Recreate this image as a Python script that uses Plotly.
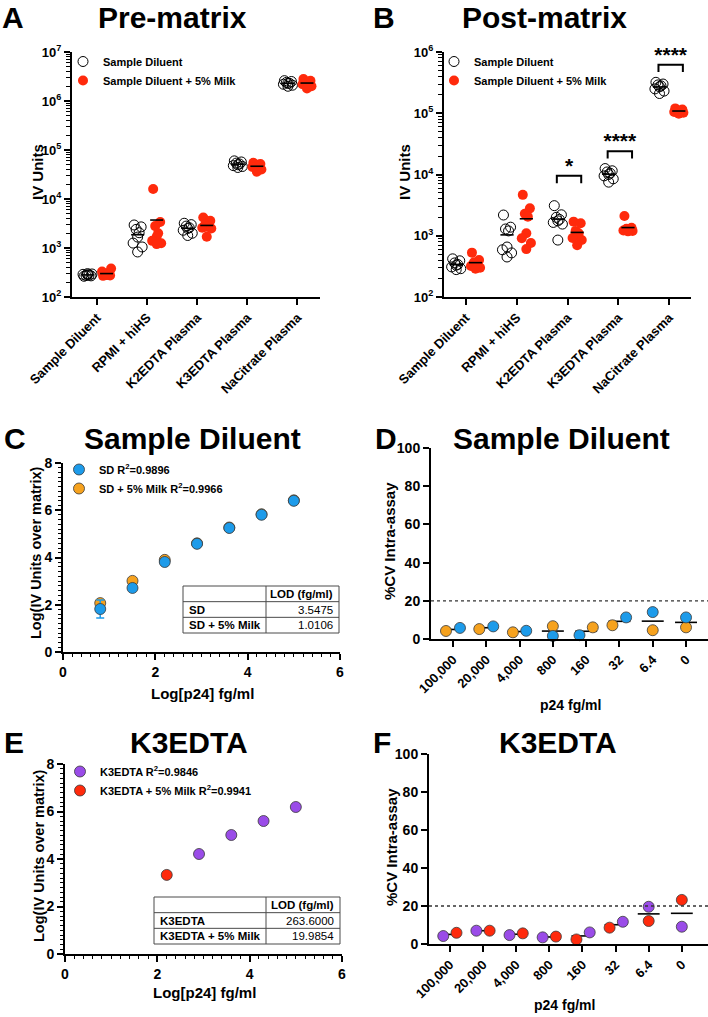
import numpy as np
import plotly.graph_objects as go

W, H = 708, 1017

# ---------------- data ----------------
matrix_categories = ["Sample Diluent", "RPMI + hiHS", "K2EDTA Plasma", "K3EDTA Plasma", "NaCitrate Plasma"]
series_names = ["Sample Diluent", "Sample Diluent + 5% Milk"]

pre_diluent = [
    [265, 270, 275, 280, 285, 290, 295, 300],
    [2950, 2700, 2400, 2050, 1670, 1260, 1050, 830],
    [3200, 3000, 2800, 2600, 2500, 2300, 2000, 1800],
    [60000, 57000, 54000, 52000, 50000, 48000, 46000, 44000],
    [2.6e6, 2.5e6, 2.4e6, 2.3e6, 2.3e6, 2.2e6, 2.1e6, 2.0e6],
]
pre_milk = [
    [270, 275, 280, 290, 300, 330, 380, 280],
    [16000, 3400, 2800, 2000, 1700, 1400, 1250, 1200],
    [4200, 3600, 3000, 2800, 2700, 2600, 2500, 1700],
    [55000, 52000, 50000, 48000, 47000, 45000, 40000, 36000],
    [2.8e6, 2.6e6, 2.5e6, 2.4e6, 2.3e6, 2.2e6, 2.0e6, 1.8e6],
]
post_diluent = [
    [420, 390, 360, 340, 330, 310, 290, 280],
    [2180, 1380, 1290, 1200, 655, 590, 525, 450],
    [3100, 2200, 2000, 1850, 1750, 1650, 1550, 850],
    [12500, 11500, 11000, 10500, 10000, 9500, 8500, 7500],
    [320000, 300000, 290000, 280000, 270000, 250000, 230000, 210000],
]
post_milk = [
    [530, 400, 370, 360, 340, 320, 300, 290],
    [4650, 2800, 2280, 2040, 1100, 910, 760, 605],
    [1700, 1600, 1200, 1100, 1000, 920, 850, 700],
    [2100, 1350, 1300, 1280, 1250, 1220, 1200, 1180],
    [120000, 115000, 112000, 110000, 108000, 105000, 102000, 98000],
]
post_sig_index = [2, 3, 4]
post_sig_text = ["*", "****", "****"]
post_sig_level = [9500, 24000, 620000]

pre_tick_values = [1e2, 1e3, 1e4, 1e5, 1e6, 1e7]
pre_tick_text = ["10<sup>2</sup>", "10<sup>3</sup>", "10<sup>4</sup>", "10<sup>5</sup>", "10<sup>6</sup>", "10<sup>7</sup>"]
post_tick_values = [1e2, 1e3, 1e4, 1e5, 1e6]
post_tick_text = ["10<sup>2</sup>", "10<sup>3</sup>", "10<sup>4</sup>", "10<sup>5</sup>", "10<sup>6</sup>"]

p24_levels = [6.4, 32, 160, 800, 4000, 20000, 100000]
sd_log_iv = [1.82, 2.71, 3.81, 4.58, 5.25, 5.81, 6.40]
sd_log_iv_err = [0.38, 0.04, 0.04, 0.03, 0.03, 0.03, 0.03]
sd_milk_log_iv = [2.07, 3.01, 3.90, 4.60, 5.27, 5.83, 6.42]
sd_milk_log_iv_err = [0.12, 0.04, 0.04, 0.03, 0.03, 0.03, 0.03]
sd_names = ["SD R<sup>2</sup>=0.9896", "SD + 5% Milk R<sup>2</sup>=0.9966"]
sd_lod_rows = ["SD", "SD + 5% Milk"]
sd_lod_values = ["3.5475", "1.0106"]

k3_p24 = [800, 4000, 20000, 100000]
k3_log_iv = [4.21, 5.01, 5.60, 6.19]
k3_milk_p24 = [160]
k3_milk_log_iv = [3.33]
k3_names = ["K3EDTA R<sup>2</sup>=0.9846", "K3EDTA + 5% Milk R<sup>2</sup>=0.9941"]
k3_lod_rows = ["K3EDTA", "K3EDTA + 5% Milk"]
k3_lod_values = ["263.6000", "19.9854"]

cv_categories = ["100,000", "20,000", "4,000", "800", "160", "32", "6.4", "0"]
cv_sd = [5.8, 6.6, 4.3, 1.6, 2.0, 11.3, 14.1, 11.3]
cv_sd_milk = [4.2, 5.2, 3.5, 6.7, 6.1, 7.2, 4.6, 6.1]
cv_k3 = [4.2, 7.0, 4.7, 3.5, 6.1, 11.7, 19.6, 9.1]
cv_k3_milk = [5.9, 7.0, 5.6, 3.9, 2.4, 8.6, 12.1, 23.2]
cv_threshold = 20

# ---------------- styling / layout constants ----------------
FONT = "Liberation Sans"
RED = "#ff2a0c"
BLUE = "#1d9bea"
ORANGE = "#f6a21e"
PURPLE = "#9a4ce8"
group_offset = [-0.19, 0.19]
spread = [-0.07, 0.07, -0.03, 0.03, 0.0, -0.09, 0.09, 0.0]
d_dodge_sd = [0.21, 0.21, 0.2, 0, -0.2, 0.2, 0, 0]
d_dodge_milk = [-0.21, -0.21, -0.2, 0, 0.2, -0.21, 0, 0]
f_dodge_k3 = [-0.2, -0.2, -0.2, -0.2, 0.22, 0.22, 0, 0]
f_dodge_milk = [0.2, 0.2, 0.2, 0.2, -0.18, -0.18, 0, 0]


def px(x):
    return x / W


def py(y):
    return 1 - y / H


fig = go.Figure()

axis_common = dict(showline=True, linecolor="black", linewidth=2, ticks="outside", automargin=False,
                   tickwidth=2, ticklen=6, tickcolor="black", showgrid=False, zeroline=False,
                   tickfont=dict(family=FONT, size=13, color="black", weight="bold"))

log_minor_pre = [m * 10 ** e for e in range(2, 7) for m in range(2, 10)]
log_minor_post = [m * 10 ** e for e in range(2, 6) for m in range(2, 10)]


def scatter_panel(xa, ya, diluent, milk, legend_name, show_leg):
    for s, (vals, name) in enumerate(zip([diluent, milk], series_names)):
        xs, ys = [], []
        lx, ly = [], []
        for i, group in enumerate(vals):
            for j, v in enumerate(group):
                xs.append(i + group_offset[s] + spread[j % len(spread)])
                ys.append(v)
            m = float(np.mean(group))
            lx += [i + group_offset[s] - 0.13, i + group_offset[s] + 0.13, None]
            ly += [m, m, None]
        if s == 0:
            marker = dict(symbol="circle-open", size=10, color="black", line=dict(width=1, color="black"))
        else:
            marker = dict(symbol="circle", size=10, color=RED, line=dict(width=0))
        fig.add_trace(go.Scatter(x=xs, y=ys, mode="markers", marker=marker, name=name,
                                 xaxis=xa, yaxis=ya, legend=legend_name, showlegend=show_leg,
                                 cliponaxis=False))
        fig.add_trace(go.Scatter(x=lx, y=ly, mode="lines", line=dict(color="black", width=1.6),
                                 xaxis=xa, yaxis=ya, showlegend=False, hoverinfo="skip"))


# ---- Panel A ----
scatter_panel("x", "y", pre_diluent, pre_milk, "legend", True)
# ---- Panel B ----
scatter_panel("x2", "y2", post_diluent, post_milk, "legend2", True)

# significance brackets (B)
for idx, txt, lvl in zip(post_sig_index, post_sig_text, post_sig_level):
    leg = lvl * 10 ** (-0.12)
    fig.add_trace(go.Scatter(x=[idx - 0.21, idx - 0.21, idx + 0.27, idx + 0.27], y=[leg, lvl, lvl, leg],
                             mode="lines", line=dict(color="black", width=2), xaxis="x2", yaxis="y2",
                             showlegend=False, hoverinfo="skip"))
    fig.add_trace(go.Scatter(x=[idx + 0.03], y=[lvl * 10 ** (-0.04)], mode="text", text=[txt],
                             textposition="top center",
                             textfont=dict(family=FONT, size=21, color="black", weight="bold"),
                             xaxis="x2", yaxis="y2", showlegend=False, hoverinfo="skip", cliponaxis=False))

# ---- Panel C ----
log_p24 = np.log10(p24_levels)
fig.add_trace(go.Scatter(x=log_p24, y=sd_milk_log_iv, mode="markers", name=sd_names[1], legendrank=2,
                         marker=dict(size=11, color=ORANGE, line=dict(width=0.8, color="#3a3a3a")),
                         error_y=dict(type="data", array=sd_milk_log_iv_err, color=ORANGE, thickness=1.5, width=4),
                         xaxis="x3", yaxis="y3", legend="legend3"))
fig.add_trace(go.Scatter(x=log_p24, y=sd_log_iv, mode="markers", name=sd_names[0], legendrank=1,
                         marker=dict(size=11, color=BLUE, line=dict(width=0.8, color="#3a3a3a")),
                         error_y=dict(type="data", array=sd_log_iv_err, color=BLUE, thickness=1.5, width=4),
                         xaxis="x3", yaxis="y3", legend="legend3"))

# ---- Panel E ----
fig.add_trace(go.Scatter(x=np.log10(k3_p24), y=k3_log_iv, mode="markers", name=k3_names[0], legendrank=1,
                         marker=dict(size=11, color=PURPLE, line=dict(width=0.8, color="#3a3a3a")),
                         xaxis="x5", yaxis="y5", legend="legend4"))
fig.add_trace(go.Scatter(x=np.log10(k3_milk_p24), y=k3_milk_log_iv, mode="markers", name=k3_names[1],
                         legendrank=2,
                         marker=dict(size=11, color=RED, line=dict(width=0.8, color="#3a3a3a")),
                         xaxis="x5", yaxis="y5", legend="legend4"))


# ---- Panels D / F ----
def cv_panel(xa, ya, a_vals, b_vals, a_dodge, b_dodge, a_color, b_color, b_first):
    lx, ly = [], []
    for i, (a, b) in enumerate(zip(a_vals, b_vals)):
        m = (a + b) / 2
        lx += [i - 0.33, i + 0.33, None]
        ly += [m, m, None]
    fig.add_trace(go.Scatter(x=lx, y=ly, mode="lines", line=dict(color="black", width=1.6),
                             xaxis=xa, yaxis=ya, showlegend=False, hoverinfo="skip"))
    order = [(b_vals, b_dodge, b_color), (a_vals, a_dodge, a_color)] if b_first else \
        [(a_vals, a_dodge, a_color), (b_vals, b_dodge, b_color)]
    for vals, dodge, col in order:
        fig.add_trace(go.Scatter(x=[i + d for i, d in enumerate(dodge)], y=vals, mode="markers",
                                 marker=dict(size=11, color=col, line=dict(width=0.8, color="#3a3a3a")),
                                 xaxis=xa, yaxis=ya, showlegend=False, cliponaxis=False))


cv_panel("x4", "y4", cv_sd, cv_sd_milk, d_dodge_sd, d_dodge_milk, BLUE, ORANGE, True)
cv_panel("x6", "y6", cv_k3, cv_k3_milk, f_dodge_k3, f_dodge_milk, PURPLE, RED, False)

# ---------------- axes ----------------
cat_tickfont = dict(family=FONT, size=13, color="black", weight="bold")
lin_tickfont = dict(family=FONT, size=14, color="black", weight="bold")
minor_lin = dict(dtick=0.2, ticks="outside", ticklen=3, tickwidth=1.2, tickcolor="black")
layout = dict(
    xaxis=dict(axis_common, domain=[px(72), px(320)], range=[-0.5, 4.45], tickvals=list(range(5)),
               ticktext=matrix_categories, tickangle=-45, anchor="y", tickfont=cat_tickfont),
    yaxis=dict(axis_common, domain=[py(297), py(52)], type="log", range=[2, 7], tickvals=pre_tick_values,
               ticktext=pre_tick_text, anchor="x",
               minor=dict(tickmode="array", tickvals=log_minor_pre, ticks="outside", ticklen=4,
                          tickwidth=1.2, tickcolor="black")),
    xaxis2=dict(axis_common, domain=[px(444), px(691)], range=[-0.43, 4.43], tickvals=list(range(5)),
                ticktext=matrix_categories, tickangle=-45, anchor="y2", tickfont=cat_tickfont),
    yaxis2=dict(axis_common, domain=[py(297), py(52)], type="log", range=[2, 6], tickvals=post_tick_values,
                ticktext=post_tick_text, anchor="x2",
                minor=dict(tickmode="array", tickvals=log_minor_post, ticks="outside", ticklen=4,
                           tickwidth=1.2, tickcolor="black")),
    xaxis3=dict(axis_common, domain=[px(63), px(340)], range=[0, 6], dtick=2, anchor="y3",
                tickfont=lin_tickfont, minor=minor_lin),
    yaxis3=dict(axis_common, domain=[py(652), py(463)], range=[0, 8], dtick=2, anchor="x3",
                tickfont=lin_tickfont, minor=minor_lin),
    xaxis4=dict(axis_common, domain=[px(431), 1.0], range=[-0.66, 7.66], tickvals=list(range(8)),
                ticktext=cv_categories, tickangle=-45, anchor="y4", tickfont=cat_tickfont),
    yaxis4=dict(axis_common, domain=[py(639), py(448)], range=[0, 100], dtick=20, anchor="x4",
                tickfont=lin_tickfont),
    xaxis5=dict(axis_common, domain=[px(65), px(342)], range=[0, 6], dtick=2, anchor="y5",
                tickfont=lin_tickfont, minor=minor_lin),
    yaxis5=dict(axis_common, domain=[py(954), py(764)], range=[0, 8], dtick=2, anchor="x5",
                tickfont=lin_tickfont, minor=minor_lin),
    xaxis6=dict(axis_common, domain=[px(429), 1.0], range=[-0.63, 7.79], tickvals=list(range(8)),
                ticktext=cv_categories, tickangle=-45, anchor="y6", tickfont=cat_tickfont),
    yaxis6=dict(axis_common, domain=[py(944), py(754)], range=[0, 100], dtick=20, anchor="x6",
                tickfont=lin_tickfont),
)

leg_common = dict(xanchor="left", yanchor="top", bgcolor="rgba(0,0,0,0)", borderwidth=0,
                  font=dict(family=FONT, size=11, color="black", weight="bold"),
                  tracegroupgap=0, itemwidth=30, traceorder="normal")
layout["legend"] = dict(leg_common, x=px(63), y=py(47))
layout["legend2"] = dict(leg_common, x=px(434), y=py(47))
layout["legend3"] = dict(leg_common, x=px(59), y=py(455))
layout["legend4"] = dict(leg_common, x=px(60), y=py(757))

# ---------------- annotations (titles, axis titles) ----------------
ann = []


def text(x, y, s, size, angle=0, xanchor="center", weight="bold"):
    ann.append(dict(x=px(x), y=py(y), xref="paper", yref="paper", text=s, showarrow=False,
                    xanchor=xanchor, yanchor="middle", textangle=angle, borderpad=0,
                    font=dict(family=FONT, size=size, color="black", weight=weight)))


for letter, lx, ly in [("A", 1, 17), ("B", 372, 17), ("C", 3, 438), ("D", 374, 438), ("E", 3, 742), ("F", 372, 742)]:
    text(lx, ly, letter, 30, xanchor="left")
text(172, 17, "Pre-matrix", 30)
text(544, 17, "Post-matrix", 30)
text(192, 438, "Sample Diluent", 30)
text(561, 438, "Sample Diluent", 30)
text(189, 742, "K3EDTA", 30)
text(558, 742, "K3EDTA", 30)

text(37, 172, "IV Units", 15, angle=-90)
text(404, 172, "IV Units", 15, angle=-90)
text(36, 553, "Log(IV Units over matrix)", 14.5, angle=-90)
text(39, 856, "Log(IV Units over matrix)", 14.5, angle=-90)
text(389, 541, "%CV Intra-assay", 15, angle=-90)
text(391, 847, "%CV Intra-assay", 15, angle=-90)
text(202, 693, "Log[p24] fg/ml", 15)
text(204, 992, "Log[p24] fg/ml", 15)
text(570, 705, "p24 fg/ml", 14)
text(564, 1005, "p24 fg/ml", 14)

# ---------------- LOD tables ----------------
shapes = []


def lod_table(x0, x1, xdiv, y0, y1, rows, values):
    rh = (y1 - y0) / 3
    shapes.append(dict(type="rect", xref="paper", yref="paper", x0=px(x0), x1=px(x1), y0=py(y1), y1=py(y0),
                       line=dict(color="#4a4a4a", width=1)))
    shapes.append(dict(type="line", xref="paper", yref="paper", x0=px(xdiv), x1=px(xdiv), y0=py(y1), y1=py(y0),
                       line=dict(color="#4a4a4a", width=1)))
    for k in (1, 2):
        shapes.append(dict(type="line", xref="paper", yref="paper", x0=px(x0), x1=px(x1),
                           y0=py(y0 + k * rh), y1=py(y0 + k * rh), line=dict(color="#4a4a4a", width=1)))
    text(x1 - 5, y0 + rh / 2, "LOD (fg/ml)", 11.5, xanchor="right")
    for k, (r, v) in enumerate(zip(rows, values)):
        yc = y0 + (k + 1.5) * rh
        text(x0 + 5, yc, r, 11.5, xanchor="left")
        text(x1 - 5, yc, v, 11.5, xanchor="right", weight="normal")


lod_table(183, 339, 266, 586, 633, sd_lod_rows, sd_lod_values)
lod_table(154, 340, 266, 897, 944, k3_lod_rows, k3_lod_values)

# threshold lines
for xa, ya in [("x4", "y4"), ("x6", "y6")]:
    shapes.append(dict(type="line", xref=xa + " domain", yref=ya, x0=0, x1=1, y0=cv_threshold, y1=cv_threshold,
                       line=dict(color="#333333", width=1.3, dash="dot")))

fig.update_layout(**layout)
fig.update_layout(annotations=ann, shapes=shapes, width=W, height=H, template="none",
                  margin=dict(l=0, r=0, t=0, b=0, autoexpand=False), plot_bgcolor="white", paper_bgcolor="white",
                  font=dict(family=FONT, color="black"))

fig.write_html("out.html", config={"displayModeBar": False},
               post_script="document.body.style.margin='0px';document.body.style.overflow='hidden';")
